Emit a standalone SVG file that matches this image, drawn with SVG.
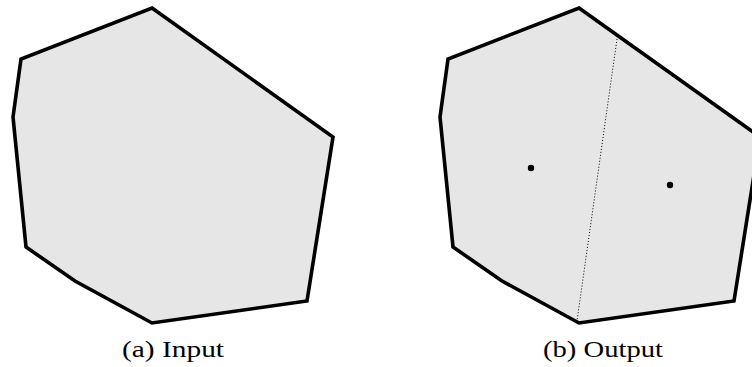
<svg xmlns="http://www.w3.org/2000/svg" width="752" height="367" viewBox="0 0 752 367">
<style>
.poly{fill:#e6e6e6;stroke:#000;stroke-width:3.6;stroke-linejoin:miter}
.cap{font-family:"Liberation Serif","DejaVu Serif",serif;font-size:24px;fill:#000;text-anchor:middle}
.cut{stroke:#000;stroke-width:1;stroke-dasharray:1 2;fill:none}
</style>
<rect width="752" height="367" fill="#fff"/>
<g id="input">
<polygon class="poly" points="152,8 333,137 307,301 152,323 75,281 26,247 13,117 21,59"/>
<text class="cap" x="173" y="357" textLength="102" lengthAdjust="spacingAndGlyphs">(a) Input</text>
</g>
<g id="output">
<polygon class="poly" points="579,8 760,137 734,301 579,323 502,281 453,247 440,117 448,59"/>
<circle cx="531" cy="168" r="3.2" fill="#000"/>
<circle cx="670" cy="185" r="3.2" fill="#000"/>
<text class="cap" x="603" y="357" textLength="120" lengthAdjust="spacingAndGlyphs">(b) Output</text>
</g>
<g id="connectors">
<line class="cut" x1="617" y1="39" x2="577" y2="321"/>
</g>
</svg>
